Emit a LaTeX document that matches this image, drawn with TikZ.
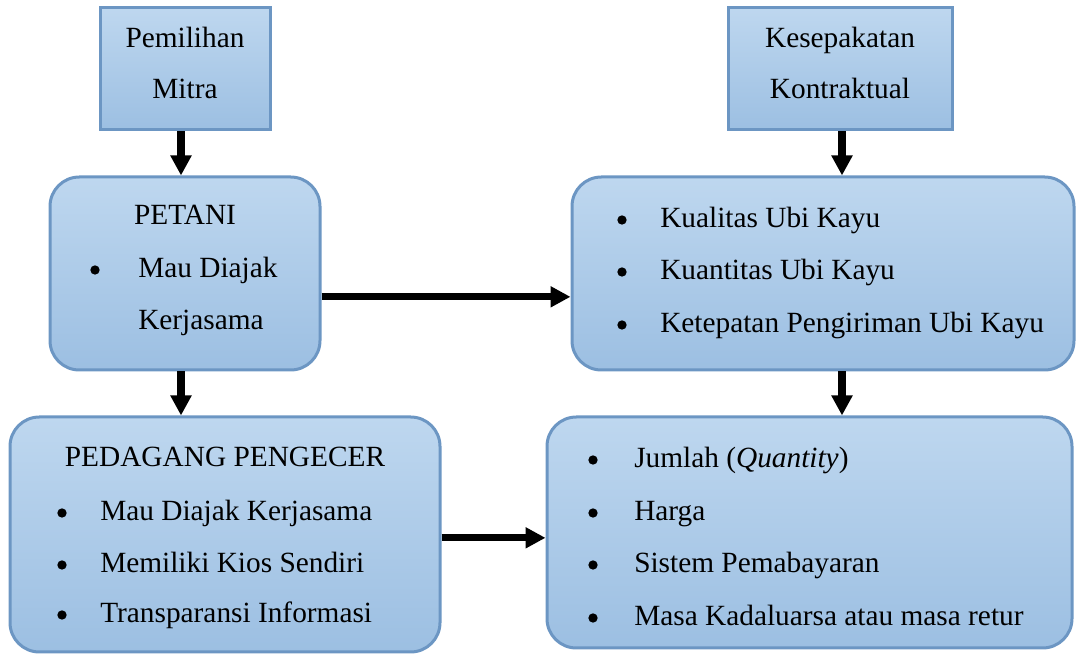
\documentclass[tikz,border=0pt]{standalone}
\usepackage{fontspec}
\setmainfont{Liberation Serif}
\usetikzlibrary{arrows.meta}

\definecolor{kotaktop}{RGB}{190,215,239}
\definecolor{kotakbot}{RGB}{156,191,226}
\definecolor{kotakline}{RGB}{108,150,195}

\tikzset{
  kotak/.style={draw=kotakline, line width=2.25pt, top color=kotaktop, bottom color=kotakbot, inner sep=0pt},
  bulat/.style={kotak, rounded corners=22pt},
  panah/.style={line width=5.5pt, -{Triangle[length=15pt,width=15pt]}},
  teks/.style={inner sep=0pt, anchor=base west},
  judul/.style={inner sep=0pt, anchor=base},
  titik/.style={circle, fill=black, inner sep=0pt, minimum size=7pt},
}

\begin{document}
\begin{tikzpicture}[x=0.75pt,y=-0.75pt,font=\fontsize{22}{26}\selectfont]
\useasboundingbox (0,0) rectangle (1076,655);

\node[kotak, minimum width=127.5pt, minimum height=91.5pt] (mitra) at (185,69) {}; %%TopLeft
\node[kotak, minimum width=168pt, minimum height=91.5pt] (kontrak) at (840,69) {}; %%TopRight
\node[bulat, minimum width=202.5pt, minimum height=144.75pt] (petani) at (185,273.5) {}; %%MiddleLeft
\node[bulat, minimum width=376.5pt, minimum height=144.75pt] (kualitas) at (823,273.5) {}; %%MiddleRight
\node[bulat, minimum width=322.5pt, minimum height=176.25pt] (pedagang) at (225,534.5) {}; %%BottomLeft
\node[bulat, minimum width=393.75pt, minimum height=173.25pt] (syarat) at (809.5,532.5) {}; %%BottomRight

\node[judul] (mitraA) at (185,48) {Pemilihan};
\node[judul] (mitraB) at (185,99) {Mitra};
\node[judul] (kontrakA) at (840,48) {Kesepakatan};
\node[judul] (kontrakB) at (840,99) {Kontraktual};

\node[judul] (petaniJ) at (185,225) {PETANI};
\node[titik] (petaniB) at (95,270) {};
\node[teks] (petaniA) at (138,278) {Mau Diajak};
\node[teks] (petaniC) at (138,330) {Kerjasama};

\node[titik] (kualitasB1) at (622,220) {};
\node[teks] (kualitas1) at (660,228) {Kualitas Ubi Kayu};
\node[titik] (kualitasB2) at (622,272) {};
\node[teks] (kualitas2) at (660,280) {Kuantitas Ubi Kayu};
\node[titik] (kualitasB3) at (622,325) {};
\node[teks] (kualitas3) at (660,333) {Ketepatan Pengiriman Ubi Kayu};

\node[judul] (pedagangJ) at (225,467) {PEDAGANG PENGECER};
\node[titik] (pedagangB1) at (62,513) {};
\node[teks] (pedagang1) at (100,521) {Mau Diajak Kerjasama};
\node[titik] (pedagangB2) at (62,565) {};
\node[teks] (pedagang2) at (100,573) {Memiliki Kios Sendiri};
\node[titik] (pedagangB3) at (62,615) {};
\node[teks] (pedagang3) at (100,623) {Transparansi Informasi};

\node[titik] (syaratB1) at (593,460) {};
\node[teks] (syarat1) at (634,468) {Jumlah (\textit{Quantity})};
\node[titik] (syaratB2) at (593,513) {};
\node[teks] (syarat2) at (634,521) {Harga};
\node[titik] (syaratB3) at (593,565) {};
\node[teks] (syarat3) at (634,573) {Sistem Pemabayaran};
\node[titik] (syaratB4) at (593,618) {};
\node[teks] (syarat4) at (634,626) {Masa Kadaluarsa atau masa retur};

\draw[panah] ([xshift=-3pt]mitra.south) -- ([xshift=-3pt]mitra.south |- petani.north); %%Down
\draw[panah] ([xshift=-3pt]petani.south) -- ([xshift=-3pt]petani.south |- pedagang.north); %%Down
\draw[panah] ([xshift=1.5pt]kontrak.south) -- ([xshift=1.5pt]kontrak.south |- kualitas.north); %%Down
\draw[panah] ([xshift=1.5pt]kontrak.south |- kualitas.south) -- ([xshift=1.5pt]kontrak.south |- syarat.north); %%Down
\draw[panah] ([yshift=-17.5pt]petani.east) -- ([yshift=-17.5pt]petani.east -| kualitas.west); %%Right
\draw[panah] ([yshift=-2.5pt]pedagang.east) -- ([yshift=-2.5pt]pedagang.east -| syarat.west); %%Right

\end{tikzpicture}
\end{document}
